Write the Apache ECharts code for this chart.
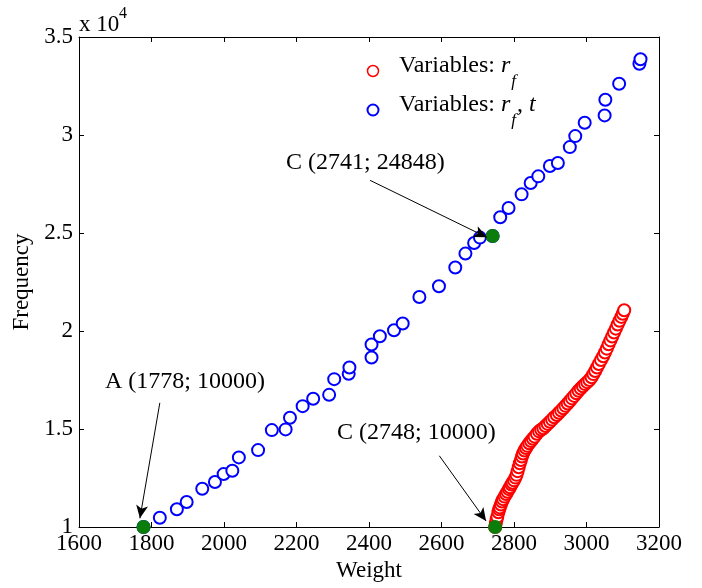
<!DOCTYPE html>
<html>
<head>
<meta charset="utf-8">
<script src="https://cdn.jsdelivr.net/npm/echarts@6/dist/echarts.min.js"></script>
<style>
html,body{margin:0;padding:0;background:#fff;}
#chart{width:702px;height:588px;}
</style>
</head>
<body>
<div id="chart"></div>
<script>
// ---- data ----
var blueX = [1778, 1823, 1870, 1897, 1940, 1975, 1999, 2023, 2041, 2094, 2132, 2170, 2182, 2217, 2246, 2290, 2304, 2344, 2346, 2407, 2407, 2430, 2469, 2493, 2539, 2593, 2638, 2666, 2690, 2706, 2741, 2762, 2785, 2821, 2846, 2867, 2899, 2921, 2954, 2969, 2995, 3050, 3052, 3090, 3146, 3149];
var blueY = [10000, 10474, 10902, 11274, 11952, 12294, 12700, 12870, 13550, 13924, 14944, 14980, 15571, 16167, 16541, 16743, 17543, 17815, 18140, 18649, 19312, 19735, 20041, 20382, 21738, 22283, 23236, 23950, 24490, 24765, 24848, 25800, 26274, 26972, 27549, 27890, 28415, 28568, 29383, 29944, 30626, 30999, 31799, 32614, 33634, 33868];

var redX = [2748, 2750, 2752, 2754, 2757, 2759, 2761, 2764, 2767, 2770, 2774, 2778, 2782, 2786, 2789, 2793, 2796, 2800, 2804, 2807, 2810, 2813, 2816, 2819, 2822, 2825, 2829, 2833, 2837, 2842, 2847, 2852, 2857, 2863, 2869, 2875, 2881, 2887, 2893, 2899, 2905, 2911, 2918, 2924, 2930, 2936, 2942, 2948, 2954, 2960, 2966, 2972, 2978, 2984, 2990, 2996, 3002, 3008, 3014, 3019, 3024, 3029, 3034, 3040, 3046, 3051, 3056, 3061, 3066, 3071, 3076, 3081, 3086, 3091, 3096, 3100, 3104];
var redY = [10000, 10200, 10380, 10520, 10750, 10900, 11000, 11150, 11300, 11420, 11550, 11680, 11800, 11930, 12030, 12170, 12260, 12380, 12520, 12660, 12850, 13050, 13250, 13420, 13600, 13750, 13900, 14030, 14140, 14270, 14390, 14500, 14610, 14760, 14880, 14960, 15040, 15150, 15260, 15370, 15480, 15600, 15710, 15830, 15940, 16060, 16180, 16300, 16430, 16560, 16690, 16820, 16950, 17070, 17180, 17290, 17390, 17500, 17640, 17800, 17960, 18140, 18320, 18520, 18710, 18900, 19100, 19320, 19520, 19720, 19920, 20120, 20330, 20520, 20720, 20880, 21060];

var keyX = [1778, 2741, 2748];
var keyY = [10000, 24848, 10000];
var keyLabels = ['A (1778; 10000)', 'C (2741; 24848)', 'C (2748; 10000)'];
// arrow start points (near labels) in data units
var arrowFromX = [1823, 2403, 2594];
var arrowFromY = [16335, 27686, 13634];
var arrowToX = [1768, 2725, 2723];
var arrowToY = [10443, 24781, 10306];

var xTicks = [1600, 1800, 2000, 2200, 2400, 2600, 2800, 3000, 3200];
var yTicks = [10000, 15000, 20000, 25000, 30000, 35000];

var seriesNames = ['Variables: r_f', 'Variables: r_f, t'];

function zip(a, b) { return a.map(function (v, i) { return [v, b[i]]; }); }

var FONT = '"Liberation Serif", "Times New Roman", serif';

var chart = echarts.init(document.getElementById('chart'), null, {renderer: 'canvas'});

var tickCommon = {show: true, inside: true, length: 5, lineStyle: {color: '#000', width: 1}};
var lineCommon = {show: true, lineStyle: {color: '#000', width: 1}};

var arrowData = arrowFromX.map(function (v, i) {
  return [{coord: [v, arrowFromY[i]]}, {coord: [arrowToX[i], arrowToY[i]]}];
});

var legendRich = {
  a: {fontFamily: FONT, fontSize: 24, lineHeight: 26, verticalAlign: 'top', fill: '#000'},
  i: {fontFamily: FONT, fontSize: 24, fontStyle: 'italic', lineHeight: 26, verticalAlign: 'top', fill: '#000'},
  s: {fontFamily: FONT, fontSize: 17, fontStyle: 'italic', lineHeight: 17, padding: [19, 1, 0, 1], verticalAlign: 'top', fill: '#000'}
};

var option = {
  animation: false,
  backgroundColor: '#fff',
  grid: {left: 79, right: 43, top: 37, bottom: 61, containLabel: false},
  xAxis: [{
    type: 'value', min: xTicks[0], max: xTicks[xTicks.length - 1], interval: 200,
    position: 'bottom',
    name: 'Weight', nameLocation: 'middle', nameGap: 32,
    nameTextStyle: {fontFamily: FONT, fontSize: 23, color: '#000'},
    axisLine: lineCommon, axisTick: tickCommon,
    axisLabel: {fontFamily: FONT, fontSize: 23, color: '#000', margin: 5,
      formatter: function (v) { return String(v); }},
    splitLine: {show: false}
  }, {
    type: 'value', min: xTicks[0], max: xTicks[xTicks.length - 1], interval: 200,
    position: 'top',
    axisLine: lineCommon, axisTick: tickCommon,
    axisLabel: {show: false}, splitLine: {show: false}
  }],
  yAxis: [{
    type: 'value', min: yTicks[0], max: yTicks[yTicks.length - 1], interval: 5000,
    position: 'left',
    name: 'Frequency', nameLocation: 'middle', nameGap: 42, nameRotate: 90,
    nameTextStyle: {fontFamily: FONT, fontSize: 23, color: '#000'},
    axisLine: lineCommon, axisTick: tickCommon,
    axisLabel: {fontFamily: FONT, fontSize: 23, color: '#000', margin: 6,
      formatter: function (v) { return String(v / 10000); }},
    splitLine: {show: false}
  }, {
    type: 'value', min: yTicks[0], max: yTicks[yTicks.length - 1], interval: 5000,
    position: 'right',
    axisLine: lineCommon, axisTick: tickCommon,
    axisLabel: {show: false}, splitLine: {show: false}
  }],
  series: [{
    name: seriesNames[1], type: 'scatter', data: zip(blueX, blueY),
    symbol: 'emptyCircle', symbolSize: 12,
    itemStyle: {color: '#0000ff', borderWidth: 2, opacity: 1},
    z: 2
  }, {
    name: seriesNames[0], type: 'scatter', data: zip(redX, redY),
    symbol: 'emptyCircle', symbolSize: 12,
    itemStyle: {color: '#ff0000', borderWidth: 1.3, opacity: 1},
    z: 3
  }, {
    name: 'key points', type: 'scatter', data: zip(keyX, keyY),
    symbol: 'circle', symbolSize: 14,
    itemStyle: {color: '#0a7d0a', opacity: 1},
    z: 4,
    markLine: {
      silent: true, animation: false,
      symbol: ['none', 'arrow'], symbolSize: [9, 13],
      label: {show: false},
      lineStyle: {color: '#000', width: 1, type: 'solid', opacity: 1},
      data: arrowData
    }
  }],
  graphic: [
    {type: 'text', left: 79, top: 13, style: {text: 'x 10', font: '23px ' + FONT, fill: '#000'}},
    {type: 'text', left: 119, top: 6, style: {text: '4', font: '16px ' + FONT, fill: '#000'}},
    // annotation labels
    {type: 'text', left: 105, top: 370, style: {text: keyLabels[0], font: '24px ' + FONT, fill: '#000'}},
    {type: 'text', left: 286, top: 151, style: {text: keyLabels[1], font: '24px ' + FONT, fill: '#000'}},
    {type: 'text', left: 337, top: 421, style: {text: keyLabels[2], font: '24px ' + FONT, fill: '#000'}},
    // legend
    {type: 'circle', shape: {cx: 373, cy: 71, r: 5.5}, style: {fill: 'none', stroke: '#ff0000', lineWidth: 1.5}},
    {type: 'circle', shape: {cx: 373, cy: 110, r: 5.5}, style: {fill: 'none', stroke: '#0000ff', lineWidth: 2}},
    {type: 'text', left: 399, top: 54, style: {text: '{a|Variables: }{i|r}{s|f}', rich: legendRich}},
    {type: 'text', left: 399, top: 93, style: {text: '{a|Variables: }{i|r}{s|f}{a|, }{i|t}', rich: legendRich}}
  ]
};
chart.setOption(option);
</script>
</body>
</html>
